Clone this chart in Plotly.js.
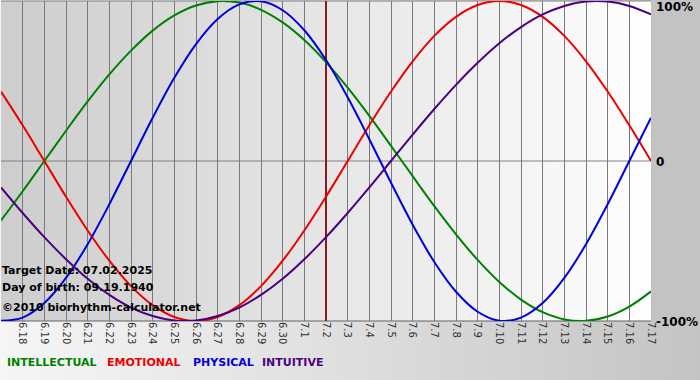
<!DOCTYPE html>
<html>
<head>
<meta charset="utf-8">
<script src="https://cdn.plot.ly/plotly-3.0.1.min.js"></script>
<style>
html,body{margin:0;padding:0;}
#wrap{position:relative;width:700px;height:380px;background:linear-gradient(to right,#f6f6f6 0%,#dedede 50%,#c4c4c4 100%);}
#plotbg{position:absolute;left:1px;top:1px;width:650px;height:320px;background:linear-gradient(to right,#cdcdcd 0%,#e6e6e6 50%,#fefefe 100%);}
#rightbg{position:absolute;left:651px;top:0;width:49px;height:322px;background:#c3c3c3;}
#chart{position:absolute;left:0;top:0;width:700px;height:380px;}
</style>
</head>
<body>
<div id="wrap"><div id="rightbg"></div><div id="plotbg"></div><div id="chart"></div></div>
<script>
var dayLabels = ["6.17","6.18","6.19","6.20","6.21","6.22","6.23","6.24","6.25","6.26","6.27","6.28","6.29","6.30",
  "7.1","7.2","7.3","7.4","7.5","7.6","7.7","7.8","7.9","7.10","7.11","7.12","7.13","7.14","7.15","7.16","7.17"];
var physical = [-0.998,-0.979,-0.888,-0.731,-0.520,-0.270,0,0.270,0.520,0.731,0.888,0.979,0.998,0.942,0.817,0.631,
  0.398,0.136,-0.136,-0.398,-0.631,-0.817,-0.942,-0.998,-0.979,-0.888,-0.731,-0.520,-0.270,0,0.270];
var emotional = [0.434,0.223,0,-0.223,-0.434,-0.623,-0.782,-0.901,-0.975,-1,-0.975,-0.901,-0.782,-0.623,-0.434,-0.223,
  0,0.223,0.434,0.623,0.782,0.901,0.975,1,0.975,0.901,0.782,0.623,0.434,0.223,0];
var intellectual = [-0.372,-0.189,0,0.189,0.372,0.541,0.690,0.815,0.910,0.972,0.999,0.990,0.945,0.866,0.756,0.618,
  0.458,0.282,0.095,-0.095,-0.282,-0.458,-0.618,-0.756,-0.866,-0.945,-0.990,-0.999,-0.972,-0.910,-0.815];
var intuitive = [-0.165,-0.325,-0.476,-0.614,-0.736,-0.837,-0.916,-0.969,-0.997,-0.997,-0.969,-0.916,-0.837,-0.736,-0.614,-0.476,
  -0.325,-0.165,0,0.165,0.325,0.476,0.614,0.736,0.837,0.916,0.969,0.997,0.997,0.969,0.916];
var seriesNames = ["INTELLECTUAL","EMOTIONAL","PHYSICAL","INTUITIVE"];
var seriesColors = ["#008000","#ee0000","#0000dd","#4b0082"];
var targetLabel = "7.2";
var infoLines = ["Target Date: 07.02.2025","Day of birth: 09.19.1940","©2010 biorhythm-calculator.net"];
var yTickVals = [1,0,-1];
var yTickText = ["100%","0","-100%"];

var xs = dayLabels.map(function(_,i){return i;});
var ti = dayLabels.indexOf(targetLabel);
var traces = [{x:[ti,ti],y:[-1,1],type:'scatter',mode:'lines',line:{color:'#8b1a1a',width:2},hoverinfo:'skip'}];
var seriesData = [intellectual, emotional, physical, intuitive];
seriesData.forEach(function(d,k){
  traces.push({x:xs,y:d,type:'scatter',mode:'lines',name:seriesNames[k],
    line:{color:seriesColors[k],width:2,shape:'spline',smoothing:1},hoverinfo:'skip',cliponaxis:false});
});
var shapes = [
  {type:'line',xref:'x',yref:'y',x0:0,x1:30,y0:0,y1:0,line:{color:'#808080',width:1},layer:'below'},
  {type:'line',xref:'paper',yref:'paper',x0:0,x1:1,y0:1,y1:1,line:{color:'#808080',width:1},layer:'below'},
  {type:'line',xref:'paper',yref:'paper',x0:0,x1:1,y0:0,y1:0,line:{color:'#606060',width:1},layer:'below'}
];
var annotations = [];
var infoY = [270,287,307];
infoLines.forEach(function(t,k){
  annotations.push({xref:'paper',yref:'paper',x:0,xshift:-1,y:1-(infoY[k]-1)/320,text:'<b>'+t+'</b>',showarrow:false,
    xanchor:'left',yanchor:'middle',font:{family:'DejaVu Sans',size:11,color:'#000'}});
});
var yPix = [7,162,322];
yTickVals.forEach(function(v,k){
  annotations.push({xref:'paper',yref:'paper',x:1,xshift:3,y:1-(yPix[k]-1)/320,text:'<b>'+yTickText[k]+'</b>',showarrow:false,
    xanchor:'left',yanchor:'middle',font:{family:'DejaVu Sans',size:12,color:'#000'}});
});
var legX = [5,105,191,260];
seriesNames.forEach(function(n,k){
  annotations.push({xref:'paper',yref:'paper',x:(legX[k]-1)/650,y:1-(362-1)/320,text:'<b>'+n+'</b>',showarrow:false,
    xanchor:'left',yanchor:'middle',font:{family:'DejaVu Sans',size:11,color:seriesColors[k]}});
});

var layout = {
  width:700,height:380,
  margin:{l:1,r:49,t:1,b:59},
  paper_bgcolor:'rgba(0,0,0,0)',plot_bgcolor:'rgba(0,0,0,0)',
  showlegend:false,
  xaxis:{range:[0,30],tickvals:xs,ticktext:dayLabels,tickangle:90,showgrid:true,gridcolor:'#7a7a7a',gridwidth:1,
    zeroline:false,showline:false,ticks:'',ticklen:0,tickfont:{family:'DejaVu Sans',size:10,color:'#333'},fixedrange:true},
  yaxis:{range:[-1,1],showgrid:false,zeroline:false,showticklabels:false,ticks:'',showline:false,fixedrange:true},
  shapes:shapes,annotations:annotations
};
Plotly.newPlot('chart',traces,layout,{displayModeBar:false,staticPlot:true});
</script>
</body>
</html>
